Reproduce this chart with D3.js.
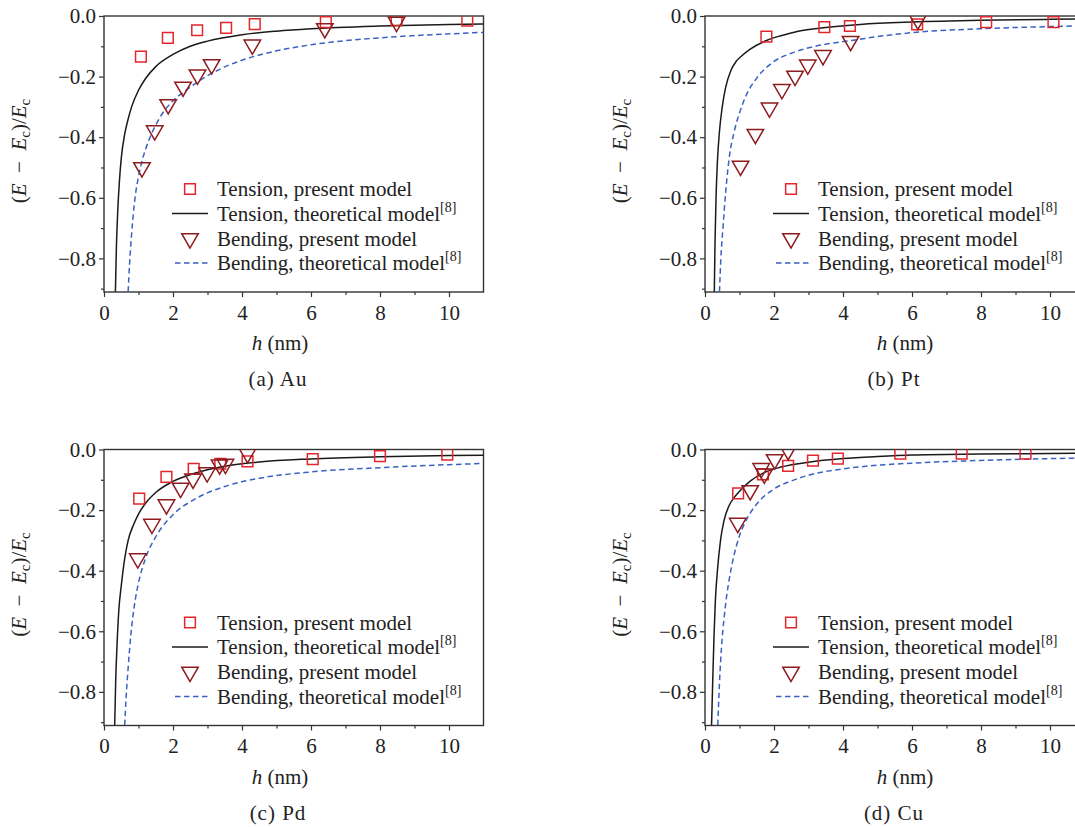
<!DOCTYPE html>
<html>
<head>
<meta charset="utf-8">
<script src="https://cdn.jsdelivr.net/npm/d3@7"></script>
<style>
  body { margin: 0; background: #fff; }
  svg { display: block; font-family: "Liberation Serif", "Times New Roman", serif; }
</style>
</head>
<body>
<svg id="chart" width="1075" height="827"></svg>
<script>
// h in nm, value = (E - Ec)/Ec
const xMajor = [0, 2, 4, 6, 8, 10]
const xMinor = [1, 3, 5, 7, 9]
const yMajor = [0, -0.2, -0.4, -0.6, -0.8]
const yMinor = [-0.1, -0.3, -0.5, -0.7, -0.9]
const captions = ['(a) Au', '(b) Pt', '(c) Pd', '(d) Cu']
const legendLabels = ['Tension, present model', 'Tension, theoretical model', 'Bending, present model', 'Bending, theoretical model']

// (a) Au
const auTenPts = [[1.07,-0.134],[1.85,-0.072],[2.7,-0.047],[3.54,-0.039],[4.37,-0.027],[6.43,-0.02],[8.48,-0.014],[10.53,-0.015]]
const auBenPts = [[1.1,-0.5],[1.47,-0.378],[1.86,-0.292],[2.29,-0.234],[2.71,-0.194],[3.12,-0.16],[4.3,-0.095],[6.4,-0.041],[8.48,-0.02]]
const auTenCurve = [[0.33,-0.91],[0.36,-0.76],[0.4,-0.64],[0.45,-0.54],[0.5,-0.47],[0.6,-0.39],[0.7,-0.34],[0.8,-0.3],[1.0,-0.245],[1.2,-0.207],[1.5,-0.167],[2.0,-0.127],[2.5,-0.1],[3.0,-0.083],[4.0,-0.062],[5.0,-0.05],[6.0,-0.042],[8.0,-0.033],[10.0,-0.028],[11.0,-0.026]]
const auBenCurve = [[0.7,-0.91],[0.74,-0.82],[0.8,-0.72],[0.9,-0.6],[1.0,-0.53],[1.1,-0.48],[1.3,-0.41],[1.5,-0.36],[1.8,-0.305],[2.0,-0.28],[2.4,-0.243],[3.0,-0.197],[3.5,-0.168],[4.0,-0.146],[5.0,-0.115],[6.0,-0.095],[8.0,-0.072],[10.0,-0.059],[11.0,-0.054]]

// (b) Pt
const ptTenPts = [[1.78,-0.068],[3.46,-0.037],[4.2,-0.033],[6.15,-0.028],[8.15,-0.02],[10.1,-0.02]]
const ptBenPts = [[1.03,-0.495],[1.46,-0.39],[1.87,-0.303],[2.23,-0.242],[2.61,-0.198],[2.98,-0.161],[3.42,-0.13],[4.22,-0.083],[6.17,-0.013]]
const ptTenCurve = [[0.27,-0.91],[0.29,-0.75],[0.32,-0.6],[0.36,-0.48],[0.42,-0.38],[0.5,-0.3],[0.6,-0.235],[0.75,-0.18],[0.9,-0.15],[1.05,-0.133],[1.3,-0.11],[1.8,-0.08],[2.2,-0.065],[2.7,-0.05],[3.5,-0.038],[4.5,-0.028],[6.0,-0.02],[8.0,-0.014],[10.0,-0.011],[11.0,-0.01]]
const ptBenCurve = [[0.42,-0.91],[0.46,-0.8],[0.52,-0.7],[0.6,-0.58],[0.7,-0.47],[0.85,-0.38],[1.0,-0.32],[1.2,-0.26],[1.5,-0.205],[2.0,-0.15],[2.5,-0.123],[3.0,-0.105],[3.5,-0.093],[4.3,-0.08],[5.0,-0.068],[6.0,-0.055],[8.0,-0.042],[10.0,-0.035],[11.0,-0.032]]

// (c) Pd
const pdTenPts = [[1.02,-0.162],[1.81,-0.09],[2.6,-0.064],[3.37,-0.047],[4.16,-0.039],[6.05,-0.032],[8.0,-0.022],[9.95,-0.017]]
const pdBenPts = [[0.98,-0.36],[1.39,-0.246],[1.81,-0.182],[2.22,-0.127],[2.58,-0.097],[2.99,-0.076],[3.35,-0.05],[3.52,-0.048],[4.16,-0.013]]
const pdTenCurve = [[0.31,-0.91],[0.34,-0.76],[0.38,-0.64],[0.43,-0.53],[0.5,-0.45],[0.6,-0.36],[0.7,-0.3],[0.85,-0.25],[1.0,-0.213],[1.2,-0.178],[1.5,-0.142],[2.0,-0.105],[2.6,-0.079],[3.5,-0.055],[4.5,-0.041],[6.0,-0.031],[8.0,-0.024],[10.0,-0.02],[11.0,-0.019]]
const pdBenCurve = [[0.6,-0.91],[0.64,-0.82],[0.7,-0.72],[0.78,-0.61],[0.9,-0.5],[1.0,-0.44],[1.2,-0.36],[1.5,-0.288],[2.0,-0.215],[2.6,-0.166],[3.5,-0.122],[4.5,-0.095],[6.0,-0.074],[8.0,-0.06],[10.0,-0.05],[11.0,-0.046]]

// (d) Cu
const cuTenPts = [[0.96,-0.145],[1.68,-0.082],[2.41,-0.054],[3.13,-0.037],[3.85,-0.03],[5.66,-0.014],[7.44,-0.014],[9.29,-0.014]]
const cuBenPts = [[0.95,-0.243],[1.31,-0.135],[1.63,-0.062],[1.72,-0.08],[2.02,-0.033],[2.41,-0.003]]
const cuTenCurve = [[0.19,-0.91],[0.22,-0.78],[0.26,-0.62],[0.3,-0.5],[0.36,-0.4],[0.45,-0.3],[0.55,-0.235],[0.7,-0.185],[0.85,-0.158],[1.0,-0.138],[1.3,-0.105],[1.7,-0.077],[2.2,-0.058],[3.0,-0.042],[4.0,-0.03],[5.0,-0.023],[6.0,-0.018],[8.0,-0.015],[10.0,-0.013],[11.0,-0.012]]
const cuBenCurve = [[0.37,-0.91],[0.42,-0.77],[0.48,-0.65],[0.55,-0.56],[0.62,-0.49],[0.7,-0.43],[0.8,-0.37],[1.0,-0.285],[1.2,-0.232],[1.5,-0.18],[2.0,-0.13],[2.5,-0.104],[3.0,-0.085],[4.0,-0.064],[5.0,-0.052],[6.0,-0.045],[8.0,-0.036],[10.0,-0.03],[11.0,-0.028]]

const panels = [
  { cap: captions[0], ox: 104, oy: 16, right: false, ten: auTenPts, ben: auBenPts, tenC: auTenCurve, benC: auBenCurve },
  { cap: captions[1], ox: 705, oy: 16, right: true, ten: ptTenPts, ben: ptBenPts, tenC: ptTenCurve, benC: ptBenCurve },
  { cap: captions[2], ox: 104, oy: 449.5, right: false, ten: pdTenPts, ben: pdBenPts, tenC: pdTenCurve, benC: pdBenCurve },
  { cap: captions[3], ox: 705, oy: 449.5, right: true, ten: cuTenPts, ben: cuBenPts, tenC: cuTenCurve, benC: cuBenCurve }
]

const W = 379.5, H = 276
const fs = 21
const axisCol = '#333'
const sqCol = '#e3262b', triCol = '#8e1b1e', blueCol = '#3a62c2', lineCol = '#1a1a1a'

const x = d3.scaleLinear().domain([0, 11]).range([0, W])
const y = d3.scaleLinear().domain([-0.911, 0]).range([H, 0])

const line = d3.line().x(d => x(d[0])).y(d => y(d[1])).curve(d3.curveMonotoneX)
const square = d3.symbol().type(d3.symbolSquare).size(115)
const tri = d3.symbol().type(d3.symbolTriangle).size(118)

const svg = d3.select('#chart')
svg.append('rect').attr('width', 1075).attr('height', 827).attr('fill', '#fff')

panels.forEach((p, i) => {
  const g = svg.append('g').attr('transform', `translate(${p.ox},${p.oy})`)

  g.append('clipPath').attr('id', 'clip' + i)
    .append('rect').attr('width', W).attr('height', H)

  // axes, ticks outward
  g.append('g').attr('transform', `translate(0,${H})`)
    .call(d3.axisBottom(x).tickValues(xMajor).tickSize(5).tickSizeOuter(0).tickPadding(8).tickFormat(d3.format('d')))
  g.append('g').attr('transform', `translate(0,${H})`)
    .call(d3.axisBottom(x).tickValues(xMinor).tickSize(3).tickSizeOuter(0).tickFormat(''))
  g.append('g')
    .call(d3.axisLeft(y).tickValues(yMajor).tickSize(5).tickSizeOuter(0).tickPadding(3).tickFormat(d3.format('.1f')))
  g.append('g')
    .call(d3.axisLeft(y).tickValues(yMinor).tickSize(3).tickSizeOuter(0).tickFormat(''))
  g.selectAll('.domain').remove()
  g.selectAll('.tick line').attr('stroke', axisCol).attr('stroke-width', 1.2)
  g.selectAll('.tick text').attr('font-family', 'Liberation Serif, serif').attr('font-size', fs).attr('fill', '#222')

  g.append('rect').attr('width', W).attr('height', H)
    .attr('fill', 'none').attr('stroke', axisCol).attr('stroke-width', 1.4)

  const plot = g.append('g').attr('clip-path', `url(#clip${i})`)

  plot.append('path').datum(p.benC).attr('d', line)
    .attr('fill', 'none').attr('stroke', blueCol).attr('stroke-width', 1.5).attr('stroke-dasharray', '5.5,3.5')
  plot.append('path').datum(p.tenC).attr('d', line)
    .attr('fill', 'none').attr('stroke', lineCol).attr('stroke-width', 1.5)

  plot.selectAll('.sq').data(p.ten).enter().append('path')
    .attr('transform', d => `translate(${x(d[0])},${y(d[1])})`)
    .attr('d', square).attr('fill', 'none').attr('stroke', sqCol).attr('stroke-width', 1.5)
  plot.selectAll('.tri').data(p.ben).enter().append('path')
    .attr('transform', d => `translate(${x(d[0])},${y(d[1])}) rotate(180)`)
    .attr('d', tri).attr('fill', 'none').attr('stroke', triCol).attr('stroke-width', 1.5)

  // legend
  const rows = [173, 197.5, 222.5, 247]
  const lg = g.append('g')
  lg.append('path').attr('transform', `translate(86,${rows[0]})`).attr('d', square)
    .attr('fill', 'none').attr('stroke', sqCol).attr('stroke-width', 1.5)
  lg.append('line').attr('x1', 68).attr('x2', 104).attr('y1', rows[1]).attr('y2', rows[1])
    .attr('stroke', lineCol).attr('stroke-width', 1.5)
  lg.append('path').attr('transform', `translate(86,${rows[2]}) rotate(180)`).attr('d', tri)
    .attr('fill', 'none').attr('stroke', triCol).attr('stroke-width', 1.5)
  lg.append('line').attr('x1', 71).attr('x2', 104).attr('y1', rows[3]).attr('y2', rows[3])
    .attr('stroke', blueCol).attr('stroke-width', 1.5).attr('stroke-dasharray', '5.5,3.5')
  legendLabels.forEach((t, k) => {
    const tx = lg.append('text').attr('x', 113).attr('y', rows[k] + 7)
      .attr('font-size', fs).attr('fill', '#222').text(t)
    if (k % 2 == 1) {
      tx.append('tspan').attr('font-size', 14).attr('dy', -9).text('[8]')
    }
  })

  // y title
  const yt = g.append('text').attr('transform', `translate(${-78},${H / 2 - 3}) rotate(-90)`)
    .attr('text-anchor', 'middle').attr('font-size', fs).attr('fill', '#222')
  yt.append('tspan').text('(')
  yt.append('tspan').attr('font-style', 'italic').text('E')
  yt.append('tspan').text('\u2002\u2212\u2002')
  yt.append('tspan').attr('font-style', 'italic').text('E')
  yt.append('tspan').attr('font-size', 15).attr('dy', 4).text('c')
  yt.append('tspan').attr('dy', -4).text(')/')
  yt.append('tspan').attr('font-style', 'italic').text('E')
  yt.append('tspan').attr('font-size', 15).attr('dy', 4).text('c')

  // x title and caption
  const cx = p.right ? 200 : 176
  const xt = g.append('text').attr('x', cx).attr('y', 334)
    .attr('text-anchor', 'middle').attr('font-size', fs).attr('fill', '#222')
  xt.append('tspan').attr('font-style', 'italic').text('h')
  xt.append('tspan').text(' (nm)')
  g.append('text').attr('x', p.right ? 189 : 174).attr('y', 370)
    .attr('text-anchor', 'middle').attr('font-size', fs).attr('fill', '#222')
    .attr('letter-spacing', 1).text(p.cap)
})
</script>
</body>
</html>
